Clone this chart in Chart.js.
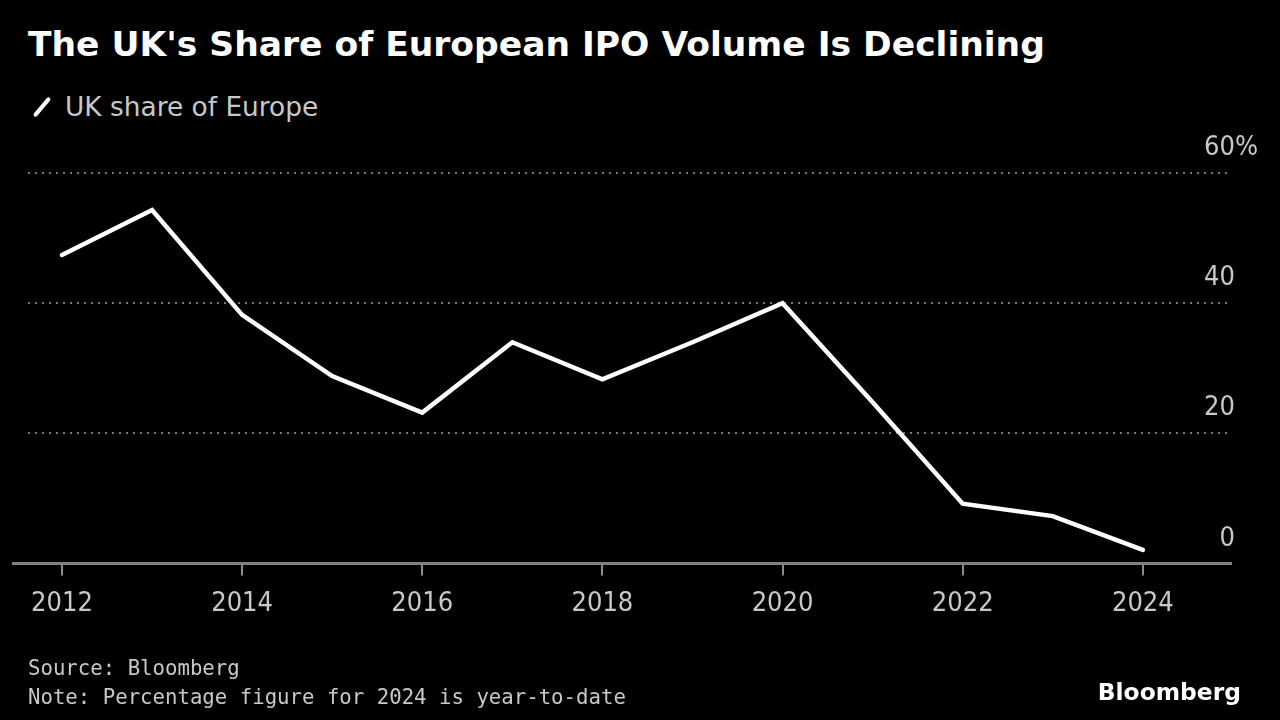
<!DOCTYPE html>
<html lang="en">
<head>
<meta charset="UTF-8">
<title>The UK's Share of European IPO Volume Is Declining</title>
<script src="https://cdn.jsdelivr.net/npm/chart.js"></script>
<style>
    body {
        margin: 0;
        background: #000;
        font-family: "DejaVu Sans", sans-serif;
        width: 1280px;
        height: 720px;
        overflow: hidden;
        position: relative;
    }
    #title {
        position: absolute;
        left: 28px;
        top: 24px;
        color: #fff;
        font-weight: bold;
        font-size: 34.5px;
        white-space: nowrap;
    }
    #legend {
        position: absolute;
        left: 30px;
        top: 91px;
        color: #c8c8c8;
        font-size: 26.4px;
        white-space: nowrap;
    }
    #legend .swatch {
        display: inline-block;
        width: 4px;
        height: 24px;
        background: #fff;
        border-radius: 2px;
        transform: rotate(40deg);
        margin: 0 21px 0 10px;
        vertical-align: -3px;
    }
    #footer {
        position: absolute;
        left: 28px;
        top: 654px;
        color: #c8c8c8;
        font-family: "DejaVu Sans Mono", monospace;
        font-size: 20.7px;
        line-height: 29px;
        white-space: nowrap;
    }
    #brand {
        position: absolute;
        right: 39px;
        top: 678px;
        color: #fff;
        font-weight: bold;
        font-size: 23.4px;
    }
    #chart-container {
        position: absolute;
        left: 0;
        top: 0;
        width: 1280px;
        height: 720px;
    }
</style>
</head>
<body>
<div id="title">The UK's Share of European IPO Volume Is Declining</div>
<div id="legend"><span class="swatch"></span>UK share of Europe</div>
<div id="chart-container"><canvas id="ipoChart"></canvas></div>
<div id="footer">Source: Bloomberg<br>Note: Percentage figure for 2024 is year-to-date</div>
<div id="brand">Bloomberg</div>
<script>
    const years = [2012, 2013, 2014, 2015, 2016, 2017, 2018, 2019, 2020, 2021, 2022, 2023, 2024];
    const ukShare = [47.4, 54.3, 38.2, 28.8, 23.2, 34.0, 28.3, 34.0, 40.0, 24.8, 9.2, 7.3, 2.1];
    const xTicks = [2012, 2014, 2016, 2018, 2020, 2022, 2024];
    const yTicks = [0, 20, 40, 60];

    const labelFont = '"DejaVu Sans Condensed", "DejaVu Sans", sans-serif';

    // y labels sit above their gridlines, right aligned, % hangs off the top one
    // the baseline runs a bit further left than the dotted grid
    const axisPlugin = {
        id: 'axisExtras',
        afterDraw(chart) {
            const ctx = chart.ctx;
            const y = chart.scales.y;
            const area = chart.chartArea;
            ctx.save();
            ctx.strokeStyle = '#808080';
            ctx.lineWidth = 3;
            ctx.beginPath();
            ctx.moveTo(12, y.getPixelForValue(0));
            ctx.lineTo(area.right, y.getPixelForValue(0));
            ctx.stroke();

            ctx.font = '27px ' + labelFont;
            ctx.fillStyle = '#c8c8c8';
            ctx.textBaseline = 'middle';
            yTicks.forEach(v => {
                const py = y.getPixelForValue(v) - 25;
                ctx.textAlign = 'right';
                ctx.fillText(String(v), 1235, py);
                if (v === 60) {
                    ctx.textAlign = 'left';
                    ctx.fillText('%', 1235, py);
                }
            });
            ctx.restore();
        }
    };

    const ctx = document.getElementById('ipoChart').getContext('2d');
    new Chart(ctx, {
        type: 'line',
        data: {
            datasets: [{
                label: 'UK share of Europe',
                data: years.map((yr, i) => ({ x: yr, y: ukShare[i] })),
                borderColor: '#ffffff',
                borderWidth: 4.5,
                pointRadius: 0,
                tension: 0,
                borderCapStyle: 'round',
                borderJoinStyle: 'miter'
            }]
        },
        options: {
            responsive: true,
            maintainAspectRatio: false,
            animation: false,
            layout: { padding: { left: 28, right: 48, top: 173, bottom: 88 } },
            plugins: {
                legend: { display: false },
                tooltip: { enabled: false }
            },
            scales: {
                x: {
                    type: 'linear',
                    min: 2011.623,
                    max: 2024.99,
                    afterBuildTicks: scale => {
                        scale.ticks = xTicks.map(v => ({ value: v }));
                    },
                    grid: {
                        drawOnChartArea: false,
                        drawTicks: true,
                        tickLength: 12,
                        color: '#8a8a8a',
                        lineWidth: 2
                    },
                    border: { display: false },
                    ticks: {
                        color: '#c8c8c8',
                        font: { size: 27, family: labelFont },
                        padding: 12,
                        maxRotation: 0,
                        autoSkip: false,
                        callback: v => String(v)
                    }
                },
                y: {
                    position: 'right',
                    min: 0,
                    max: 60,
                    afterBuildTicks: scale => {
                        scale.ticks = yTicks.map(v => ({ value: v }));
                    },
                    grid: {
                        drawTicks: false,
                        color: c => c.tick && c.tick.value === 0 ? 'rgba(0,0,0,0)' : '#777777',
                        lineWidth: 2
                    },
                    border: { display: false, dash: [2, 5] },
                    ticks: { display: false }
                }
            }
        },
        plugins: [axisPlugin]
    });
</script>
</body>
</html>
